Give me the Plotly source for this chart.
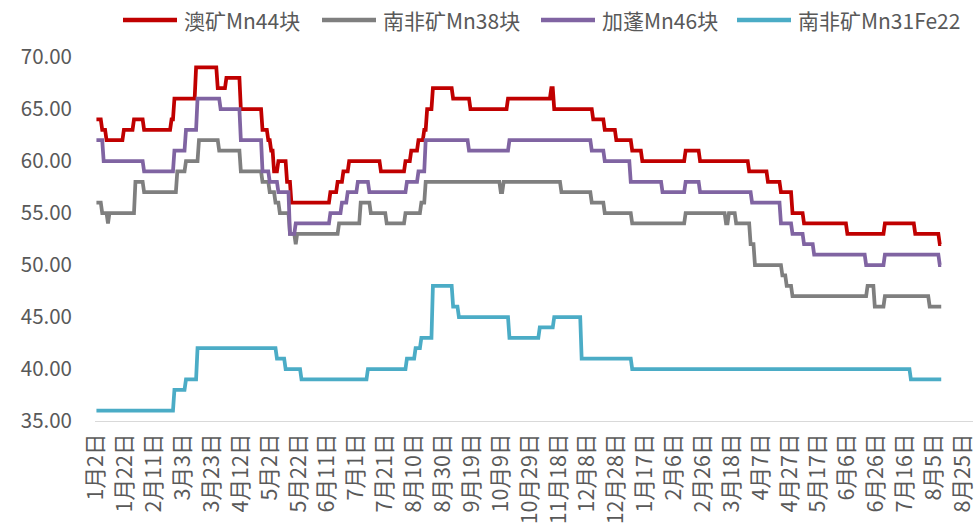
import pandas as pd
import plotly.graph_objects as go

# Manganese ore prices: each list gives the date a price level starts and the level
red_dates = ["2022-01-02", "2022-01-06", "2022-01-09", "2022-01-21", "2022-01-28", "2022-02-04",
             "2022-02-23", "2022-02-25", "2022-03-12", "2022-03-27", "2022-04-02", "2022-04-12",
             "2022-04-27", "2022-05-01", "2022-05-03", "2022-05-05", "2022-05-08", "2022-05-14",
             "2022-05-17", "2022-06-13", "2022-06-18", "2022-06-22", "2022-06-26", "2022-07-18",
             "2022-08-04", "2022-08-08", "2022-08-13", "2022-08-17", "2022-08-19", "2022-08-23",
             "2022-09-06", "2022-09-18", "2022-10-14", "2022-11-13", "2022-11-15", "2022-12-12",
             "2022-12-20", "2022-12-28", "2023-01-08", "2023-01-15", "2023-02-14", "2023-02-24",
             "2023-03-30", "2023-04-12", "2023-04-21", "2023-04-29", "2023-05-07", "2023-06-06",
             "2023-07-02", "2023-07-23", "2023-08-09"]
red_vals = [64, 63, 62, 63, 64, 63,
            64, 66, 69, 67, 68, 65,
            63, 62, 61, 59, 60, 58,
            56, 57, 58, 59, 60, 59,
            60, 61, 62, 63, 65, 67,
            66, 65, 66, 67, 65, 64,
            63, 62, 61, 60, 61, 60,
            59, 58, 57, 55, 54, 53,
            54, 53, 52]

gray_dates = ["2022-01-02", "2022-01-06", "2022-01-10", "2022-01-11", "2022-01-29", "2022-02-04",
              "2022-02-27", "2022-03-05", "2022-03-14", "2022-03-28", "2022-04-12", "2022-04-27",
              "2022-05-02", "2022-05-06", "2022-05-09", "2022-05-16", "2022-05-20", "2022-05-21",
              "2022-06-19", "2022-07-04", "2022-07-11", "2022-07-22", "2022-08-04", "2022-08-15",
              "2022-08-18", "2022-10-09", "2022-10-11", "2022-11-20", "2022-12-11", "2022-12-20",
              "2023-01-08", "2023-02-14", "2023-03-14", "2023-03-16", "2023-03-21", "2023-03-31",
              "2023-04-03", "2023-04-22", "2023-04-25", "2023-04-29", "2023-06-20", "2023-06-25",
              "2023-07-02", "2023-08-02"]
gray_vals = [56, 55, 54, 55, 58, 57,
             59, 60, 62, 61, 59, 58,
             57, 56, 55, 53, 52, 53,
             54, 56, 55, 54, 55, 56,
             58, 57, 58, 57, 56, 55,
             54, 55, 54, 55, 54, 52,
             50, 49, 48, 47, 48, 46,
             47, 46]

purple_dates = ["2022-01-02", "2022-01-07", "2022-02-04", "2022-02-25", "2022-03-05", "2022-03-13",
                "2022-03-29", "2022-04-12", "2022-04-27", "2022-05-02", "2022-05-08", "2022-05-16",
                "2022-05-20", "2022-06-13", "2022-06-21", "2022-06-25", "2022-07-02", "2022-07-10",
                "2022-08-05", "2022-08-13", "2022-08-18", "2022-09-17", "2022-10-15", "2022-12-11",
                "2022-12-20", "2023-01-07", "2023-01-29", "2023-02-14", "2023-02-24", "2023-04-01",
                "2023-04-21", "2023-04-29", "2023-05-07", "2023-05-14", "2023-06-19", "2023-07-02",
                "2023-08-09"]
purple_vals = [62, 60, 59, 61, 63, 66,
               65, 62, 59, 58, 57, 53,
               54, 55, 56, 57, 58, 57,
               58, 59, 62, 61, 62, 61,
               60, 58, 57, 58, 57, 56,
               54, 53, 52, 51, 50, 51,
               50]

blue_dates = ["2022-01-02", "2022-02-25", "2022-03-05", "2022-03-13", "2022-05-07", "2022-05-13",
              "2022-05-24", "2022-07-09", "2022-08-05", "2022-08-11", "2022-08-15", "2022-08-23",
              "2022-09-06", "2022-09-10", "2022-10-15", "2022-11-05", "2022-11-15", "2022-12-04",
              "2023-01-08", "2023-07-20"]
blue_vals = [36, 38, 39, 42, 41, 40,
             39, 40, 41, 42, 43, 48,
             46, 45, 43, 44, 45, 41,
             40, 39]

last_date = "2023-08-10"

series_names = ["澳矿Mn44块", "南非矿Mn38块", "加蓬Mn46块", "南非矿Mn31Fe22"]
series_dates = [red_dates, gray_dates, purple_dates, blue_dates]
series_vals = [red_vals, gray_vals, purple_vals, blue_vals]
series_colors = ["#C00000", "#7F7F7F", "#8064A2", "#4BACC6"]

# x-axis labels every 20 days
tick_dates = pd.date_range("2022-01-02", "2023-08-25", freq="20D")
tick_text = [f"{d.month}月{d.day}日" for d in tick_dates]


def daily_path(dates, vals, end):
    """Hold each price level until the day before the next change."""
    starts = pd.to_datetime(dates)
    stops = list(starts[1:] - pd.Timedelta(days=1)) + [pd.Timestamp(end)]
    xs, ys = [], []
    for s, e, v in zip(starts, stops, vals):
        xs += [s, e]
        ys += [v, v]
    return xs, ys


FONT = "Noto Sans CJK SC"
TEXT = "#595959"
W, H = 976, 525
ML, MR, MT, MB = 95, 3, 57, 104
plot_w, plot_h = W - ML - MR, H - MT - MB

fig = go.Figure()
for name, dates, vals, color in zip(series_names, series_dates, series_vals, series_colors):
    xs, ys = daily_path(dates, vals, last_date)
    fig.add_trace(go.Scatter(x=xs, y=ys, mode="lines", name=name,
                             line=dict(color=color, width=3.75)))

# Legend row across the top: a line swatch followed by the series name
legend_left_px = [123, 322, 541, 737]
legend_y = 1 + (MT - 20) / plot_h
shapes, annotations = [], []
for left, name, color in zip(legend_left_px, series_names, series_colors):
    shapes.append(dict(type="line", xref="paper", yref="paper",
                       x0=(left - ML) / plot_w, x1=(left + 54 - ML) / plot_w,
                       y0=legend_y, y1=legend_y, line=dict(color=color, width=4.5)))
    annotations.append(dict(text=name, xref="paper", yref="paper",
                            x=(left + 59 - ML) / plot_w, y=legend_y,
                            xanchor="left", yanchor="middle", showarrow=False,
                            font=dict(size=21, color=TEXT, family=FONT)))

fig.update_layout(
    width=W, height=H,
    margin=dict(l=ML, r=MR, t=MT, b=MB),
    paper_bgcolor="white", plot_bgcolor="white",
    font=dict(family=FONT, color=TEXT),
    showlegend=False,
    shapes=shapes, annotations=annotations,
)
fig.update_xaxes(
    type="date", range=["2022-01-01", "2023-09-01"],
    tickmode="array", tickvals=tick_dates, ticktext=tick_text,
    tickangle=-90, tickfont=dict(size=21.5, color=TEXT, family=FONT),
    showgrid=False, zeroline=False, showline=True, linecolor="#D9D9D9", linewidth=1,
    ticks="", automargin=False, ticklabelstandoff=3,
)
fig.update_yaxes(
    range=[35, 70], tickvals=[35, 40, 45, 50, 55, 60, 65, 70], tickformat=".2f",
    tickfont=dict(size=20.5, color=TEXT, family=FONT),
    showgrid=False, zeroline=False, showline=False, ticks="", automargin=False,
    ticklabelstandoff=22,
)

fig.write_html("out.html")
